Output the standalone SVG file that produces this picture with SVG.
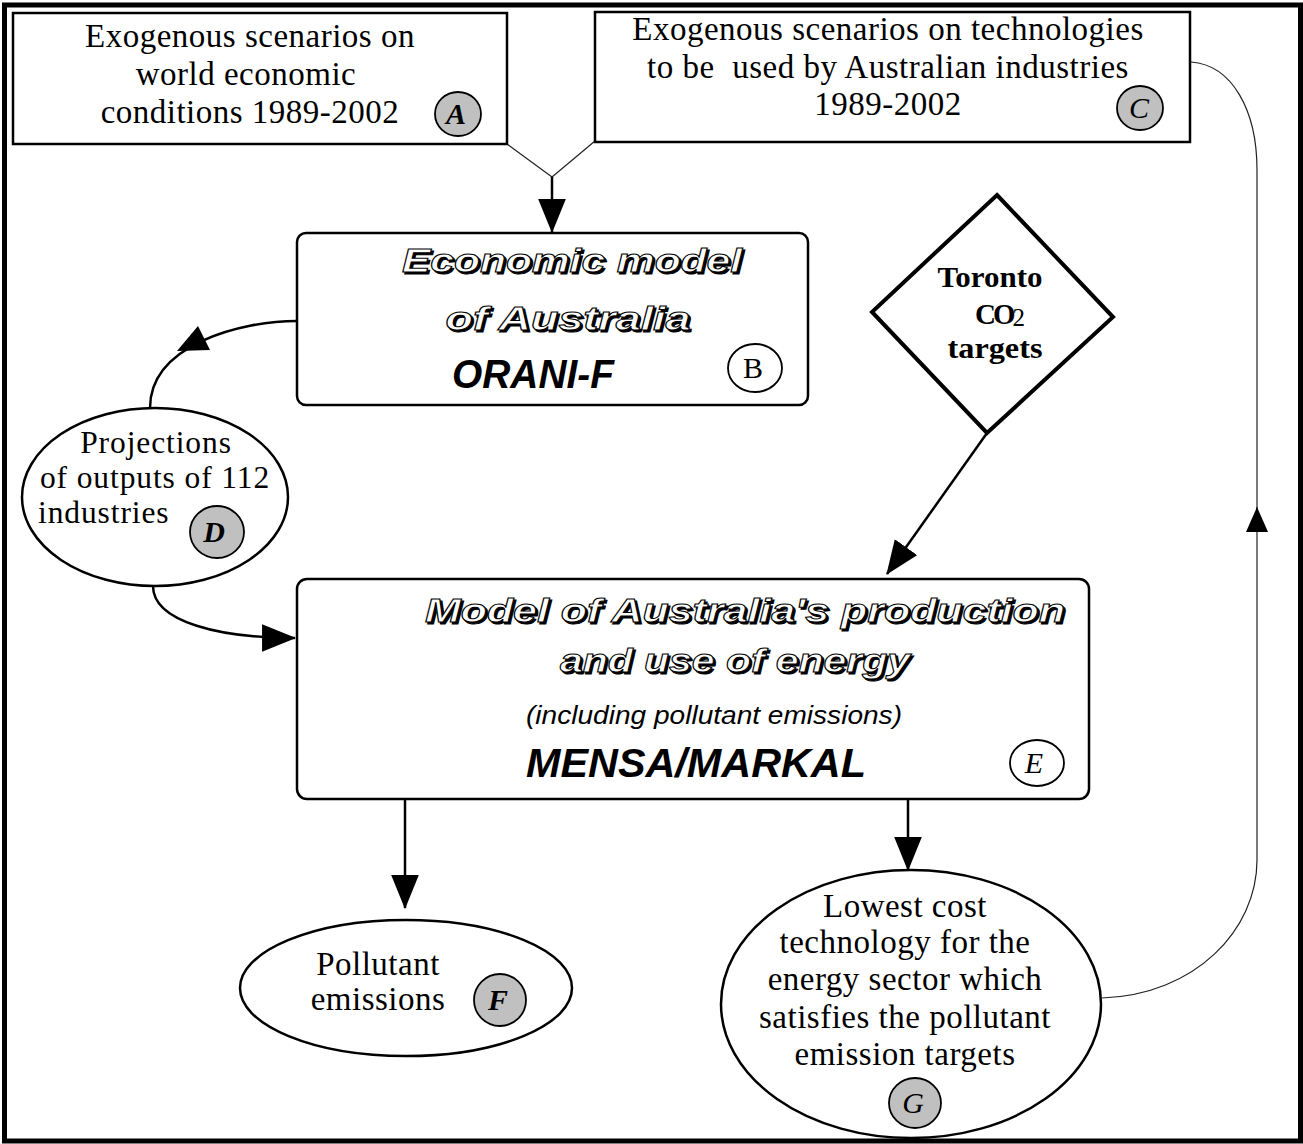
<svg xmlns="http://www.w3.org/2000/svg" width="1303" height="1144" viewBox="0 0 1303 1144">
<style>
.box{fill:#fff;stroke:#000;stroke-width:2.5}
.rbox{fill:#fff;stroke:#000;stroke-width:2.5}
.ell{fill:#fff;stroke:#000;stroke-width:2.5}
.serif{font-family:"Liberation Serif","Times New Roman",serif;font-size:33px;letter-spacing:0.5px;fill:#000}
.serifd{font-family:"Liberation Serif","Times New Roman",serif;font-size:31.5px;letter-spacing:0.9px;fill:#000}
.tag{stroke:#000;stroke-width:1.8}
.gray{fill:#c0c0c0}
.white{fill:#fff}
.tagtxt{font-family:"Liberation Serif","Times New Roman",serif;font-size:30px;fill:#000}
.outl{font-family:"Liberation Sans",Arial,sans-serif;font-weight:bold;font-style:italic;font-size:34px}
.outl-sh{fill:#000;stroke:#000;stroke-width:1}
.outl-fg{fill:#fff;stroke:#000;stroke-width:1}
.bi{font-family:"Liberation Sans",Arial,sans-serif;font-weight:bold;font-style:italic;fill:#000}
.tor{font-family:"Liberation Serif","Times New Roman",serif;font-weight:bold;font-size:29px;fill:#000}
.conn{fill:none;stroke:#000;stroke-width:2.5}
.thin{fill:none;stroke:#222;stroke-width:1.2}
</style>
<defs>
<marker id="ah" markerUnits="userSpaceOnUse" markerWidth="34" markerHeight="28" viewBox="0 0 32 26" refX="31" refY="13" orient="auto">
<path d="M0,0 L32,13 L0,26 z" fill="#000"/>
</marker>
</defs>
<rect x="0" y="0" width="1303" height="1144" fill="#fff"/>
<rect x="4.5" y="5" width="1296" height="1136" fill="none" stroke="#000" stroke-width="5"/>

<g id="connectors">
<line class="thin" x1="507" y1="144" x2="552" y2="177"/>
<line class="thin" x1="595" y1="141" x2="552" y2="177"/>
<line class="conn" x1="552" y1="177" x2="552" y2="232" marker-end="url(#ah)"/>
<path class="conn" d="M297,321 C240,321 150,345 150,408"/>
<polygon points="198,326 177,351 210,350" fill="#000"/>
<path class="conn" d="M153,586 C153,622 220,638 295,638" marker-end="url(#ah)"/>
<line class="conn" x1="987" y1="433" x2="887" y2="574" marker-end="url(#ah)"/>
<line class="conn" x1="405" y1="798" x2="405" y2="908" marker-end="url(#ah)"/>
<line class="conn" x1="908" y1="798" x2="908" y2="870" marker-end="url(#ah)"/>
<path class="thin" d="M1102,998 C1195,995 1257,930 1257,860 L1257,507"/>
<path class="thin" d="M1257,532 L1257,170 C1257,110 1232,65 1191,62"/>
<polygon points="1257,507 1268,532 1246,532" fill="#000"/>
</g>

<g id="nodeA">
<rect class="box" x="13" y="13" width="494" height="131"/>
<text class="serif" x="250" y="47" text-anchor="middle">Exogenous scenarios on</text>
<text class="serif" x="246" y="85" text-anchor="middle">world economic</text>
<text class="serif" x="250" y="123" text-anchor="middle">conditions 1989-2002</text>
<ellipse class="tag gray" cx="458" cy="114" rx="23" ry="22"/>
<text class="tagtxt" x="456" y="124" text-anchor="middle" font-weight="bold" font-style="italic">A</text>
</g>

<g id="nodeC">
<rect class="box" x="595" y="12" width="595" height="130"/>
<text class="serif" x="888" y="40" text-anchor="middle">Exogenous scenarios on technologies</text>
<text class="serif" x="888" y="78" text-anchor="middle" xml:space="preserve">to be  used by Australian industries</text>
<text class="serif" x="888" y="115" text-anchor="middle">1989-2002</text>
<ellipse class="tag gray" cx="1140" cy="108" rx="23" ry="22"/>
<text class="tagtxt" x="1139" y="118" text-anchor="middle" font-style="italic">C</text>
</g>

<g id="nodeB">
<rect class="rbox" x="297" y="233" width="511" height="172" rx="9"/>
<g class="outl">
<text class="outl-sh" x="574" y="273.5" text-anchor="middle" textLength="340" lengthAdjust="spacingAndGlyphs">Economic model</text>
<text class="outl-fg" x="572" y="272" text-anchor="middle" textLength="340" lengthAdjust="spacingAndGlyphs">Economic model</text>
<text class="outl-sh" x="570" y="331.5" text-anchor="middle" textLength="245" lengthAdjust="spacingAndGlyphs">of Australia</text>
<text class="outl-fg" x="568" y="330" text-anchor="middle" textLength="245" lengthAdjust="spacingAndGlyphs">of Australia</text>
</g>
<text class="bi" x="533" y="388" font-size="40" text-anchor="middle" textLength="162" lengthAdjust="spacingAndGlyphs">ORANI-F</text>
<ellipse class="tag white" cx="755" cy="368" rx="27" ry="24"/>
<text class="tagtxt" x="753" y="378" text-anchor="middle">B</text>
</g>

<g id="nodeToronto">
<polygon points="997,195 1113,317 987,433 872,312" fill="#fff" stroke="#000" stroke-width="4"/>
<text class="tor" x="990" y="287" text-anchor="middle" textLength="105" lengthAdjust="spacingAndGlyphs">Toronto</text>
<text class="tor" x="1000" y="324" text-anchor="middle"><tspan letter-spacing="-3">CO</tspan><tspan font-weight="normal" font-size="25" dy="2">2</tspan></text>
<text class="tor" x="995" y="358" text-anchor="middle" textLength="95" lengthAdjust="spacingAndGlyphs">targets</text>
</g>

<g id="nodeD">
<ellipse class="ell" cx="155" cy="497" rx="133" ry="89"/>
<text class="serifd" x="156" y="453" text-anchor="middle">Projections</text>
<text class="serifd" x="155" y="488" text-anchor="middle">of outputs of 112</text>
<text class="serifd" x="38" y="523">industries</text>
<ellipse class="tag gray" cx="217" cy="532" rx="27" ry="26"/>
<text class="tagtxt" x="214" y="542" text-anchor="middle" font-weight="bold" font-style="italic">D</text>
</g>

<g id="nodeE">
<rect class="rbox" x="297" y="579" width="792" height="220" rx="10"/>
<g class="outl">
<text class="outl-sh" x="747" y="623.5" text-anchor="middle" textLength="640" lengthAdjust="spacingAndGlyphs">Model of Australia's production</text>
<text class="outl-fg" x="745" y="622" text-anchor="middle" textLength="640" lengthAdjust="spacingAndGlyphs">Model of Australia's production</text>
<text class="outl-sh" x="737" y="673.5" text-anchor="middle" textLength="350" lengthAdjust="spacingAndGlyphs">and use of energy</text>
<text class="outl-fg" x="735" y="672" text-anchor="middle" textLength="350" lengthAdjust="spacingAndGlyphs">and use of energy</text>
</g>
<text x="714" y="724" text-anchor="middle" font-family="Liberation Sans,Arial,sans-serif" font-style="italic" font-size="26" textLength="376" lengthAdjust="spacingAndGlyphs">(including pollutant emissions)</text>
<text class="bi" x="696" y="777" font-size="40" text-anchor="middle" textLength="340" lengthAdjust="spacingAndGlyphs">MENSA/MARKAL</text>
<ellipse class="tag white" cx="1037" cy="763" rx="27" ry="23"/>
<text class="tagtxt" x="1034" y="773" text-anchor="middle" font-style="italic">E</text>
</g>

<g id="nodeF">
<ellipse class="ell" cx="406" cy="988" rx="166" ry="68"/>
<text class="serif" x="378" y="975" text-anchor="middle">Pollutant</text>
<text class="serif" x="378" y="1010" text-anchor="middle">emissions</text>
<ellipse class="tag gray" cx="500" cy="1000" rx="26" ry="26"/>
<text class="tagtxt" x="498" y="1010" text-anchor="middle" font-weight="bold" font-style="italic">F</text>
</g>

<g id="nodeG">
<ellipse class="ell" cx="911" cy="1004" rx="190" ry="134"/>
<text class="serif" x="905" y="917" text-anchor="middle">Lowest cost</text>
<text class="serif" x="905" y="953" text-anchor="middle">technology for the</text>
<text class="serif" x="905" y="990" text-anchor="middle">energy sector which</text>
<text class="serif" x="905" y="1028" text-anchor="middle">satisfies the pollutant</text>
<text class="serif" x="905" y="1065" text-anchor="middle">emission targets</text>
<ellipse class="tag gray" cx="915" cy="1103" rx="26" ry="25"/>
<text class="tagtxt" x="913" y="1113" text-anchor="middle" font-style="italic">G</text>
</g>
</svg>
